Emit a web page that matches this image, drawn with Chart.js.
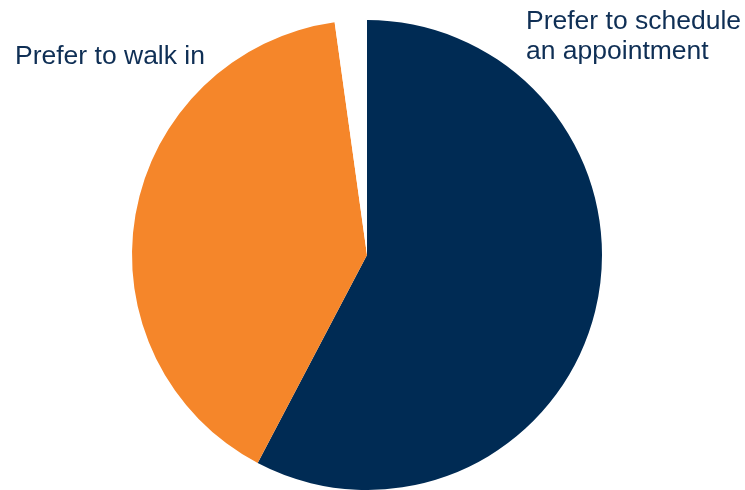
<!DOCTYPE html>
<html>
<head>
<meta charset="utf-8">
<script src="https://cdn.jsdelivr.net/npm/chart.js@4/dist/chart.umd.min.js"></script>
<style>
  html, body { margin: 0; padding: 0; background: #fff; }
  #wrap { width: 745px; height: 490px; }
</style>
</head>
<body>
<div id="wrap"><canvas id="pieChart" width="745" height="490"></canvas></div>
<script>
// Appointment preference shares (percent)
const categories = ['Prefer to schedule an appointment', 'Prefer to walk in', 'Other'];
const shares = [57.7, 40.1, 2.2];
const sliceColors = ['#002b54', '#f5862a', '#ffffff'];

// Label text, line by line
const scheduleLines = ['Prefer to schedule', 'an appointment'];
const walkInLines = ['Prefer to walk in'];

const labelPlugin = {
    id: 'sliceLabels',
    afterDraw(chart) {
        const ctx = chart.ctx;
        ctx.save();
        ctx.fillStyle = '#0f2f55';
        ctx.font = '26.5px "Liberation Sans", Arial, sans-serif';
        ctx.textBaseline = 'alphabetic';
        ctx.textAlign = 'left';
        scheduleLines.forEach((line, i) => ctx.fillText(line, 526, 29 + i * 30));
        walkInLines.forEach((line, i) => ctx.fillText(line, 15, 64 + i * 30));
        ctx.restore();
    }
};

new Chart(document.getElementById('pieChart').getContext('2d'), {
    type: 'pie',
    data: {
        labels: categories,
        datasets: [{
            data: shares,
            backgroundColor: sliceColors,
            borderWidth: 0
        }]
    },
    options: {
        responsive: false,
        animation: false,
        layout: { padding: { left: 132, right: 143, top: 20, bottom: 0 } },
        plugins: {
            legend: { display: false },
            tooltip: { enabled: false }
        }
    },
    plugins: [labelPlugin]
});
</script>
</body>
</html>
